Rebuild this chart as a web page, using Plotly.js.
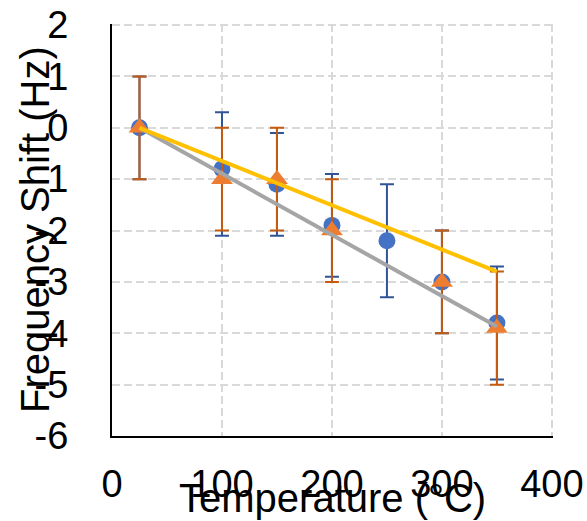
<!DOCTYPE html>
<html>
<head>
<meta charset="utf-8">
<script src="https://cdn.plot.ly/plotly-3.0.1.min.js"></script>
<style>html,body{margin:0;padding:0;background:#fff;}#chart{width:587px;height:521px;}</style>
</head>
<body>
<div id="chart"></div>
<script>
const xTitle = "Temperature (°C)";
const yTitle = "Frequency Shift (Hz)";

const tempBlue = [25, 100, 150, 200, 250, 300, 350];
const shiftBlue = [0, -0.8, -1.1, -1.9, -2.2, -3.0, -3.8];
const errBluePlus = [1.0, 1.1, 1.0, 1.0, 1.1, 1.0, 1.1];
const errBlueMinus = [1.0, 1.3, 1.0, 1.0, 1.1, 1.0, 1.1];

const tempOrange = [25, 100, 150, 200, 300, 350];
const shiftOrange = [0, -1.0, -1.0, -2.0, -3.0, -3.9];
const errOrangePlus = [1.0, 1.0, 1.0, 1.0, 1.0, 1.1];
const errOrangeMinus = [1.0, 1.0, 1.0, 1.0, 1.0, 1.1];

const trendX = [25, 350];
const trendGray = [0, -3.87];
const trendYellow = [0, -2.8];

const xTicks = [0, 100, 200, 300, 400];
const yTicks = [-6, -5, -4, -3, -2, -1, 0, 1, 2];

const font = "Arial, 'Liberation Sans', sans-serif";

const traces = [
  {
    x: tempBlue, y: shiftBlue, type: 'scatter', mode: 'markers',
    marker: {symbol: 'circle', size: 17, color: '#4472C4'},
    error_y: {type: 'data', symmetric: false, array: errBluePlus, arrayminus: errBlueMinus,
      color: '#2F5597', thickness: 2, width: 7},
    showlegend: false
  },
  {
    x: tempOrange, y: shiftOrange, type: 'scatter', mode: 'markers',
    marker: {symbol: 'triangle-up', size: 19, color: '#ED7D31'},
    error_y: {type: 'data', symmetric: false, array: errOrangePlus, arrayminus: errOrangeMinus,
      color: '#C55A11', thickness: 2, width: 7},
    showlegend: false
  },
  {
    x: trendX, y: trendGray, type: 'scatter', mode: 'lines',
    line: {color: '#A5A5A5', width: 4}, showlegend: false
  },
  {
    x: trendX, y: trendYellow, type: 'scatter', mode: 'lines',
    line: {color: '#FFC000', width: 4}, showlegend: false
  }
];

const layout = {
  width: 587, height: 521,
  margin: {l: 112, r: 34, t: 24, b: 85},
  paper_bgcolor: '#fff', plot_bgcolor: '#fff',
  font: {family: font, color: '#000'},
  showlegend: false,
  xaxis: {
    range: [0, 401], tickvals: xTicks, ticktext: xTicks.map(String),
    showgrid: true, gridcolor: '#D9D9D9', griddash: '8px,4px', gridwidth: 2,
    zeroline: false, showline: true, linecolor: '#000', linewidth: 2,
    ticks: '', ticklabelstandoff: 13,
    tickfont: {family: font, size: 38, color: '#000'}
  },
  yaxis: {
    range: [-6, 2.02], tickvals: yTicks, ticktext: yTicks.map(String),
    showgrid: true, gridcolor: '#D9D9D9', griddash: '8px,4px', gridwidth: 2,
    zeroline: false, showline: true, linecolor: '#000', linewidth: 2,
    ticks: '', ticklabelstandoff: 34,
    tickfont: {family: font, size: 38, color: '#000'}
  },
  annotations: [
    {text: xTitle, xref: 'paper', yref: 'paper', x: 0.5, y: (436 - 498) / 412,
      xanchor: 'center', yanchor: 'middle', showarrow: false,
      font: {family: font, size: 40, color: '#000'}},
    {text: yTitle, xref: 'paper', yref: 'paper', x: (35 - 112) / 441, y: 0.5,
      xanchor: 'center', yanchor: 'middle', showarrow: false, textangle: -90,
      font: {family: font, size: 40, color: '#000'}}
  ]
};

Plotly.newPlot('chart', traces, layout, {displayModeBar: false, staticPlot: true});
</script>
</body>
</html>
